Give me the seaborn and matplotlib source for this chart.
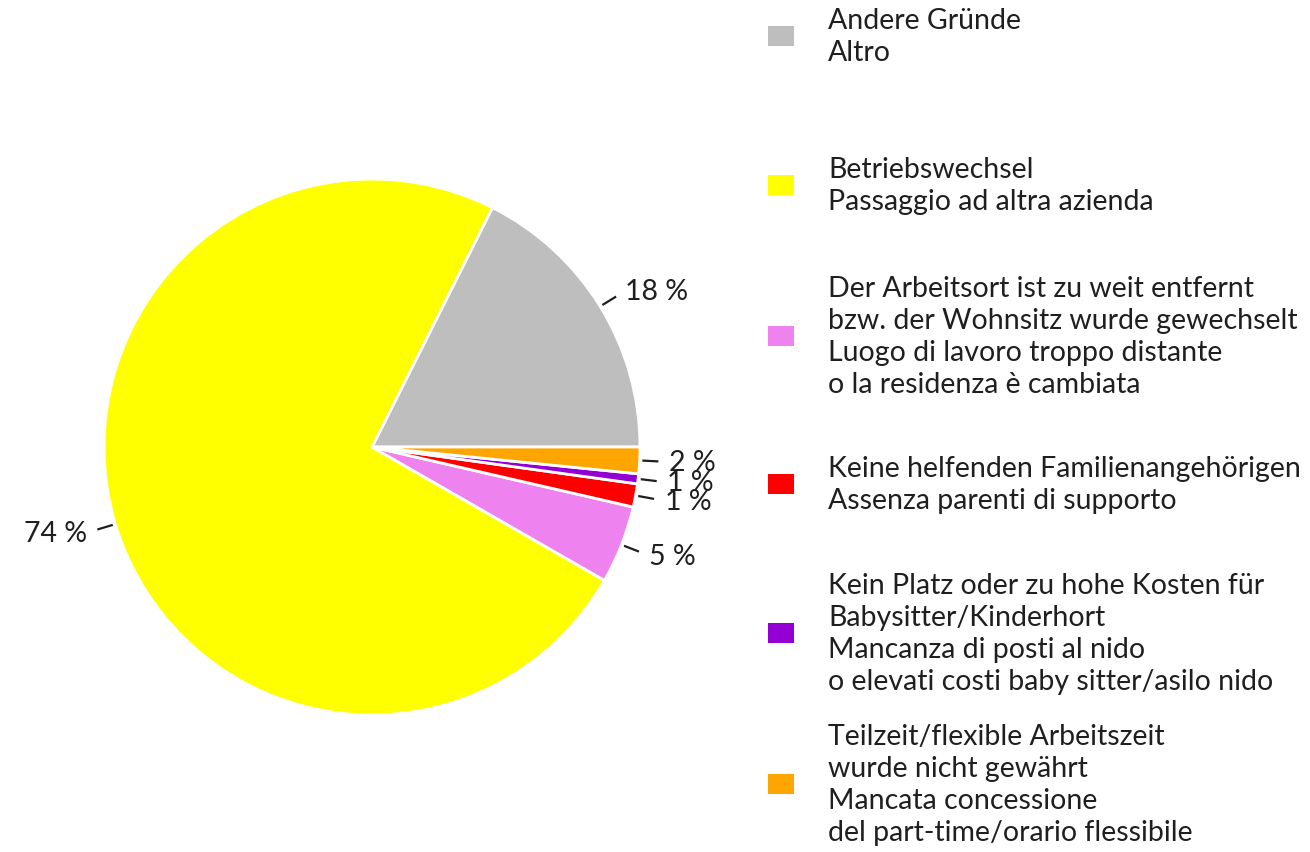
import numpy as np
import matplotlib
matplotlib.use("Agg")
import matplotlib.pyplot as plt
from matplotlib.patches import Rectangle
import seaborn as sns

# Reasons for leaving (share of responses, %)
categories = [
    "Andere Gründe\nAltro",
    "Betriebswechsel\nPassaggio ad altra azienda",
    "Der Arbeitsort ist zu weit entfernt\nbzw. der Wohnsitz wurde gewechselt\n"
    "Luogo di lavoro troppo distante\no la residenza è cambiata",
    "Keine helfenden Familienangehörigen\nAssenza parenti di supporto",
    "Kein Platz oder zu hohe Kosten für\nBabysitter/Kinderhort\n"
    "Mancanza di posti al nido\no elevati costi baby sitter/asilo nido",
    "Teilzeit/flexible Arbeitszeit\nwurde nicht gewährt\n"
    "Mancata concessione\ndel part-time/orario flessibile",
]
shares = [17.6, 74.2, 4.7, 1.4, 0.6, 1.6]
colors = ["#BEBEBE", "#FFFF00", "#EE82EE", "#FF0000", "#9400D3", "#FFA500"]

sns.set_theme(style="white")
plt.rcParams["font.family"] = ["Lato", "DejaVu Sans"]
text_color = "#1f1f1f"
fs = 20.5

W, H = 1310, 853
fig = plt.figure(figsize=(W / 100, H / 100), dpi=100)

# pie area: centre (372, 448) px, radius 268 px
cx, cy, r = 372, 448, 268
ax = fig.add_axes([(cx - r) / W, (H - cy - r) / H, 2 * r / W, 2 * r / H])
wedges, _ = ax.pie(
    shares, colors=colors, startangle=0, counterclock=True, radius=1.0,
    wedgeprops=dict(edgecolor="white", linewidth=2),
)
ax.set_xlim(-1, 1)
ax.set_ylim(-1, 1)
ax.set_aspect("equal")
ax.axis("off")

# percentage labels with short leader lines
for w, v in zip(wedges, shares):
    ang = np.deg2rad((w.theta1 + w.theta2) / 2)
    c, s = np.cos(ang), np.sin(ang)
    ax.plot([1.01 * c, 1.07 * c], [1.01 * s, 1.07 * s], color=text_color,
            lw=1.6, clip_on=False, solid_capstyle="butt")
    ax.text(1.11 * c, 1.11 * s, f"{v:.0f} %", ha="left" if c > 0 else "right",
            va="center", fontsize=fs, color=text_color, clip_on=False)

# legend column
legend_y = [37, 186, 337, 485, 634, 785]
for lab, col, yc in zip(categories, colors, legend_y):
    fig.patches.append(Rectangle((768 / W, (H - yc - 10) / H), 26 / W, 20 / H,
                                 transform=fig.transFigure, facecolor=col,
                                 edgecolor="none"))
    fig.text(828 / W, (H - yc) / H, lab, ha="left", va="center", fontsize=fs,
             linespacing=1.3, color=text_color)

fig.savefig("out.png", dpi=100, facecolor="white")
